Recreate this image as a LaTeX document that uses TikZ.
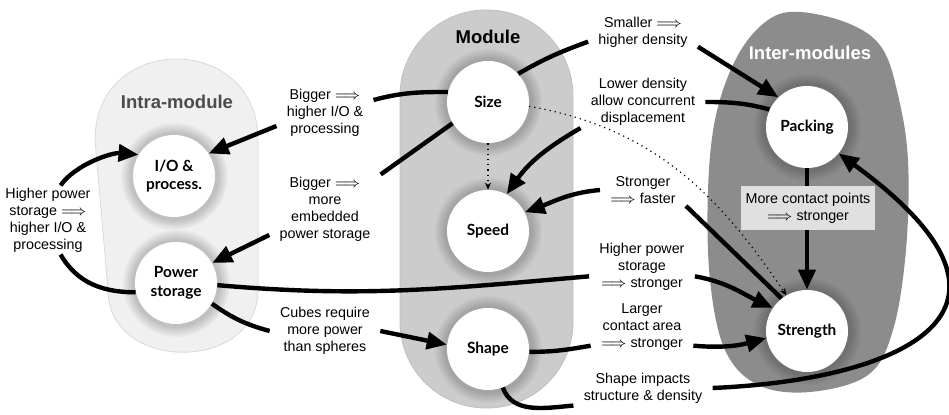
\documentclass[tikz,border=0pt]{standalone}
\usepackage{fontspec}
\setsansfont{Liberation Sans}
\newfontfamily\latofont{Lato}
\usetikzlibrary{arrows.meta,positioning,shadows,fadings}

\newcommand{\notefont}{\fontsize{7.15pt}{8.5pt}\sffamily}
\newcommand{\factorfont}{\fontsize{7.7pt}{9.3pt}\latofont\bfseries}
\newcommand{\blobfont}{\fontsize{9.25pt}{11pt}\sffamily\bfseries}

\tikzset{
	factor/.style={circle,fill=white,minimum size=41pt,inner sep=0pt,
		align=center,font=\factorfont,
		general shadow={shadow scale=1.32,path fading=circle with fuzzy edge 20 percent,
			fill=black,opacity=0.2}},
	note/.style={align=center,font=\notefont,inner xsep=5pt,inner ysep=1pt},
	blobtitle/.style={font=\blobfont},
	wire/.style={line width=2.2pt},
	link/.style={wire,-{Triangle[length=10pt,width=8.5pt]}},
	hint/.style={dotted,line width=0.6pt,-{Stealth[length=3.5pt,width=3pt]}}
}

\begin{document}
\begin{tikzpicture}[x=0.5pt,y=0.5pt]
\useasboundingbox (0,0) rectangle (949,-415);

% groups
\draw[fill=black!6,draw=black!15] (95,-140) .. controls (95,-32) and (258,-32) .. (258,-140)
	-- (258,-290) .. controls (258,-373) and (108,-373) .. (108,-290) -- cycle;
\draw[fill=black!20,draw=black!25,rounded corners=43pt] (400,-10) rectangle (573,-408);
\fill[black!45] plot[smooth cycle,tension=0.6] coordinates {(800,-12) (850,-24) (882,-48)
	(898,-95) (908,-160) (906,-250) (893,-330) (868,-375) (810,-392) (758,-385) (725,-350)
	(710,-280) (708,-190) (716,-115) (738,-55) (768,-20)};

\node[blobtitle,text=black!70] (intratitle) at (177,-102) {Intra-module};
\node[blobtitle] (moduletitle) at (488,-37) {Module};
\node[blobtitle,text=white] (intertitle) at (810,-53) {Inter-modules};

% factors
\node[factor] (io) at (174,-176) {I/O \&\\process.};
\node[factor] (power) at (176,-283) {Power\\storage};
\node[factor] (size) at (488,-102) {Size};
\node[factor] (speed) at (488,-231) {Speed};
\node[factor] (shape) at (488,-349) {Shape};
\node[factor] (packing) at (807,-127) {Packing};
\node[factor] (strength) at (807,-331) {Strength};

% relations
\node[note] (bigio) at (325,-113) {Bigger $\Longrightarrow$\\higher I/O \&\\processing};
\node[note] (bigpower) at (325,-209) {Bigger $\Longrightarrow$\\more\\embedded\\power storage};
\node[note] (storageio) at (48,-220) {Higher power\\storage $\Longrightarrow$\\higher I/O \&\\processing};
\node[note] (cubes) at (325,-331) {Cubes require\\more power\\than spheres};
\node[note] (smaller) at (643,-32) {Smaller $\Longrightarrow$\\higher density};
\node[note] (lower) at (643,-102) {Lower density\\allow concurrent\\displacement};
\node[note] (stronger) at (643,-190) {Stronger\\$\Longrightarrow$ faster};
\node[note] (storagestr) at (642,-267) {Higher power\\storage\\$\Longrightarrow$ stronger};
\node[note] (larger) at (642,-327) {Larger\\contact area\\$\Longrightarrow$ stronger};
\node[note] (impacts) at (643,-388) {Shape impacts\\structure \& density};

\draw[wire] (size.166) to[out=180,in=15] (bigio.15);
\draw[link] (bigio.195) -- (io.33);
\draw[wire] (size.211) -- (bigpower.north east);
\draw[link] (bigpower.205) -- (power.29);
\draw[wire] (power.193) to[out=180,in=-60] (storageio.-70);
\draw[link] (storageio.70) to[out=55,in=175,looseness=0.8] (io.149);
\draw[wire] (power.-30) to[out=-35,in=165] (cubes.west);
\draw[link] (cubes.east) -- (shape.174);
\draw[wire] (power.-3) to[out=-5,in=185] (storagestr.190);
\draw[link] (storagestr.-10) to[out=-10,in=155] (strength.146);
\draw[wire] (shape.-4) to[out=0,in=190] (larger.200);
\draw[link] (larger.-20) to[out=-5,in=195] (strength.190);
\draw[wire] (shape.-69) to[out=-70,in=185] (impacts.south west);
\draw[link] (impacts.east) .. controls +(185,8) and +(220,-160) .. (packing.-40);
\draw[wire] (size.43) to[out=30,in=200] (smaller.190);
\draw[link] (smaller.-15) -- (packing.134);
\draw[wire] (packing.155) to[out=165,in=0] (lower.east);
\draw[link] (lower.south west) to[out=210,in=55] (speed.63);
\draw[wire] (strength.128) -- (stronger.south east);
\draw[link] (stronger.west) to[out=185,in=20] (speed.27);
\draw[hint] (size) -- (speed);
\draw[hint] (size.-6) to[out=-10,in=124] (strength.120);
\draw[link] (packing) -- (strength);

\node[note,fill=black!12,inner xsep=2.5pt,inner ysep=3.5pt] (contact) at (808,-208)
	{More contact points\\$\Longrightarrow$ stronger};

\end{tikzpicture}
\end{document}
